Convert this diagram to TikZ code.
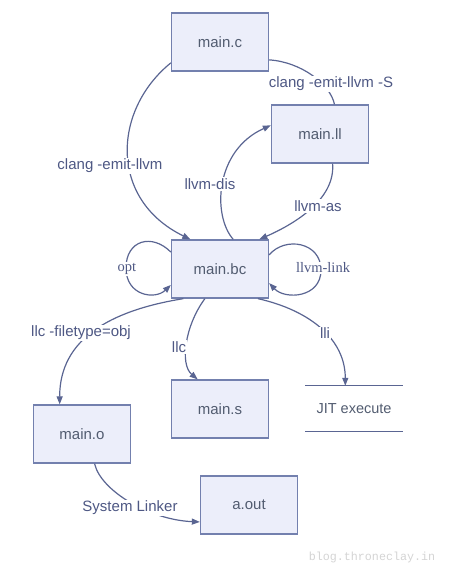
\documentclass[tikz,border=0pt]{standalone}
\usepackage{fontspec}
\setmainfont{Liberation Sans}
\newfontfamily\seriflab{Liberation Serif}
\newfontfamily\monolab{Liberation Mono}
\usetikzlibrary{arrows.meta}
\definecolor{boxfill}{HTML}{ECEEFA}
\definecolor{boxline}{HTML}{7380AE}
\definecolor{edgec}{HTML}{5A6592}
\definecolor{txtc}{HTML}{525C70}
\definecolor{lblc}{HTML}{4E5884}
\definecolor{wmc}{HTML}{D4D4D4}
\begin{document}
\begin{tikzpicture}[x=1bp,y=-1bp,
 filebox/.style={draw=boxline, fill=boxfill, line width=1.3bp, minimum width=97bp, minimum height=58bp, inner sep=0pt, text=txtc, font=\fontsize{15bp}{18bp}\selectfont},
 plainbox/.style={minimum width=97bp, minimum height=45bp, inner sep=0pt, text=txtc, font=\fontsize{14.5bp}{18bp}\selectfont},
 conn/.style={draw=edgec, line width=1.2bp},
 arr/.style={conn, -{Triangle[length=8bp,width=6bp]}},
 lbl/.style={fill=white, inner sep=1bp, text=lblc, font=\fontsize{15bp}{18bp}\selectfont},
 slbl/.style={fill=white, inner sep=1bp, text=lblc, font=\seriflab\fontsize{14.5bp}{17bp}\selectfont},
]
\useasboundingbox (0,0) rectangle (458,573);

% nodes
\node[filebox] (c)  at (220,42)  {main.c};
\node[filebox] (ll) at (320,134) {main.ll};
\node[filebox] (bc) at (220,269) {main.bc};
\node[filebox] (s)  at (220,409) {main.s};
\node[filebox] (o)  at (82,434)  {main.o};
\node[filebox] (a)  at (249,505) {a.out};
\node[plainbox] (j) at (354,408.5) {JIT execute};
\draw[conn] (j.north west) -- (j.north east);
\draw[conn] (j.south west) -- (j.south east);

% edges
\draw[arr] (c.-157) .. controls +(-58,47) and +(-82,-40) .. (bc.135);
\draw[conn] (c.-20) .. controls +(32,2) and +(-4,-20) .. (ll.64);
\draw[arr] (bc.66) .. controls +(-21,-24) and +(-56,25) .. (ll.170);
\draw[arr] (ll.-67) .. controls +(3,37) and +(32,-14) .. (bc.37);
\draw[arr] (bc.161) .. controls (152,233) and (126,240) .. (126,268) .. controls (126,296) and (155,300) .. (bc.-162);
\draw[arr] (bc.16) .. controls (285,236) and (321,242) .. (321,270) .. controls (321,298) and (285,300) .. (bc.-16);
\draw[arr] (bc.-141) .. controls +(-74,12) and +(0,-65) .. (o.127);
\draw[arr] (bc.-117) .. controls +(-20,27) and +(-18,-15) .. (s.127);
\draw[arr] (bc.-38) .. controls +(53,12) and +(0,-46) .. (j.111);
\draw[arr] (o.-67) .. controls +(6,27) and +(-50,-2) .. (a.-161);

% labels
\node[lbl] (l1) at (110,166) {clang -emit-llvm};
\node[lbl] (l2) at (331,84) {clang -emit-llvm -S};
\node[lbl] (l3) at (210,184) {llvm-dis};
\node[lbl] (l4) at (318,206) {llvm-as};
\node[slbl] (l5) at (127,269) {opt};
\node[slbl] (l6) at (323,268) {llvm-link};
\node[lbl] (l7) at (81,333) {llc -filetype=obj};
\node[lbl] (l8) at (179,347) {llc};
\node[lbl] (l9) at (325,333) {lli};
\node[lbl] (l10) at (130,508) {System Linker};

% watermark
\node[text=wmc, font=\monolab\fontsize{11.7bp}{14bp}\selectfont, inner sep=0pt] (wm) at (372,557) {blog.throneclay.in};
\end{tikzpicture}
\end{document}
